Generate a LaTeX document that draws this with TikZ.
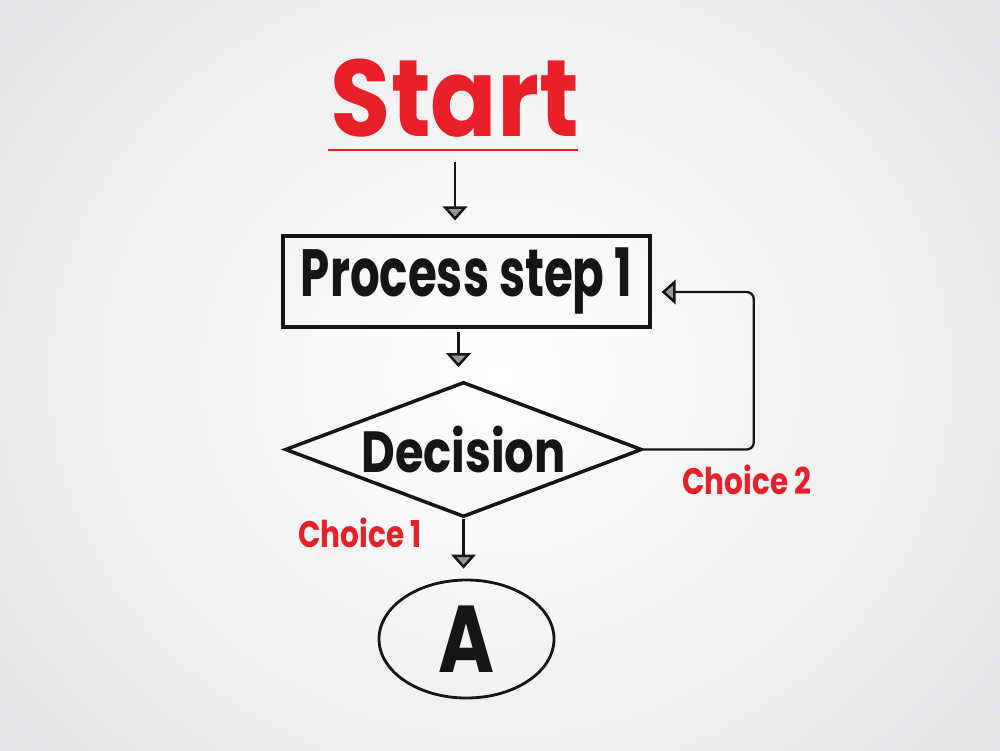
\documentclass[tikz,border=0pt]{standalone}
\usepackage{fontspec}
\setmainfont{Poppins}
\newfontfamily\hand[FakeStretch=0.8]{Poppins}
\newfontfamily\handn[FakeStretch=0.7]{Poppins}
\newfontfamily\handw[FakeStretch=0.9]{Poppins}
\usetikzlibrary{arrows.meta,shapes.geometric}
\definecolor{inkred}{HTML}{E8202A}
\definecolor{ink}{HTML}{151515}
\definecolor{bggray}{HTML}{E2E2E4}
\begin{document}
\begin{tikzpicture}[
  handtxt/.style={font=\hand\bfseries, text=ink, inner sep=0pt},
  redtxt/.style={font=\hand\bfseries\fontsize{10.5}{10.5}\selectfont, text=inkred, inner sep=0pt},
  boxnode/.style={draw=ink, line width=0.9pt, minimum width=3.67cm, minimum height=0.91cm, inner sep=0pt},
  dianode/.style={diamond, draw=ink, line width=1pt, aspect=2.64, minimum width=3.57cm, minimum height=1.35cm, inner sep=0pt},
  ellnode/.style={ellipse, draw=ink, line width=0.8pt, minimum width=1.75cm, minimum height=1.18cm, inner sep=0pt},
  arr/.style={draw=ink, line width=0.65pt, -{Triangle[width=7pt, length=4pt, open, fill=ink!45, line width=0.7pt]}}
]
\useasboundingbox (0,0) rectangle (10,7.5);
\begin{scope}
\clip (0,0) rectangle (10,7.5);
\shade[inner color=white, outer color=bggray] (-2.5,-3) rectangle (12.5,10.5);
\end{scope}

% Start
\node[handtxt, text=inkred, font=\handw\bfseries\fontsize{31}{31}\selectfont, anchor=base] (start) at (4.55,6.13) {Start};
\draw[inkred, line width=0.6pt] (3.28,6.0) -- (5.78,6.0);

% Process
\node[boxnode, font=\handn\bfseries\fontsize{19}{19}\selectfont, text=ink] (proc) at (4.665,4.685) {\raisebox{-0.4ex}{Process step 1}};

% Decision
\node[dianode, font=\hand\bfseries\fontsize{16.5}{16.5}\selectfont, text=ink] (dec) at (4.635,3.005) {Decision};

% A
\node[ellnode, font=\hand\bfseries\fontsize{27}{27}\selectfont, text=ink] (a) at (4.665,1.11) {A};

% labels
\node[redtxt] (c1) at (3.60,2.17) {Choice 1};
\node[redtxt] (c2) at (7.47,2.70) {Choice 2};

% connectors
\draw[arr, shorten >=0.14cm] ([yshift=-0.23cm]start.south) -- (start.south |- proc.north);
\draw[arr, shorten <=0.03cm, shorten >=0.13cm] ([xshift=-0.08cm]proc.south) -- ([xshift=-0.08cm]proc.south |- dec.north);
\draw[arr, shorten >=0.1cm] (dec.south) -- (dec.south |- a.north);
\draw[arr, shorten >=0.1cm, rounded corners=2pt] (dec.east) -- ++(1.1,0) |- ([yshift=-0.105cm]proc.east);
\end{tikzpicture}
\end{document}
